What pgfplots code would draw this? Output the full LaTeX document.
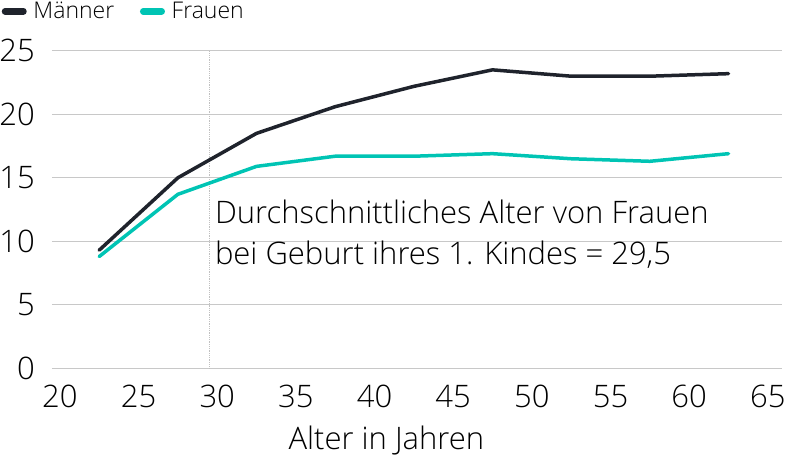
\documentclass[border=0pt]{standalone}
\usepackage{fontspec}
\setmainfont{Open Sans Light}
\usepackage{pgfplots}
\pgfplotsset{compat=1.18}
\definecolor{maenner}{HTML}{1F232C}
\definecolor{frauen}{HTML}{00C4B4}
\definecolor{gridc}{HTML}{C8C8C8}
\definecolor{dotc}{HTML}{C0C0C0}
\begin{document}
\begin{tikzpicture}
\begin{axis}[
  at={(0,0)}, anchor=south west,
  scale only axis, width=730bp, height=317.5bp,
  xmin=19.5, xmax=65.9, ymin=0, ymax=25,
  axis line style={draw=none},
  major tick length=0pt,
  tick style={draw=none},
  xtick={20,25,...,65}, ytick={0,5,...,25},
  ymajorgrids, grid style={gridc, line width=1bp},
  clip=false,
  /pgf/number format/assume math mode=true,
  ticklabel style={font=\fontsize{31bp}{31bp}\selectfont},
  yticklabel style={anchor=east, inner sep=0pt, xshift=-17bp},
  xticklabel style={anchor=north, inner sep=0pt, yshift=-17bp},
  xlabel={Alter in Jahren},
  xlabel style={at={(axis description cs:0.458,0)}, anchor=base, yshift=-81.5bp, inner sep=0pt, font=\fontsize{31bp}{31bp}\selectfont},
  legend columns=2,
  legend image code/.code={\path (0bp,0bp) (25bp,0bp); \draw[#1, line width=6.5bp, line cap=round] (3.25bp,0bp) -- (21.75bp,0bp);},
  legend style={at={(axis description cs:0,1)}, anchor=north west, xshift=-52bp, yshift=48.5bp,
    draw=none, fill=none, inner sep=0pt, outer sep=0pt,
    font=\fontsize{23bp}{23bp}\selectfont,
    nodes={inner sep=0pt},
    column sep=5bp,
    /tikz/every even column/.append style={column sep=24bp}},
  legend cell align=left,
]
\addplot[dotc, densely dotted, line width=0.8bp, forget plot] coordinates {(29.5,0) (29.5,25)};
\addplot[maenner, line width=3.5bp, line join=round, line cap=round] coordinates {
(22.5,9.3) (27.5,15.0) (32.5,18.5) (37.5,20.6) (42.5,22.2) (47.5,23.5) (52.5,23.0) (57.5,23.0) (62.5,23.2)};
\addlegendentry{Männer}
\addplot[frauen, line width=3.5bp, line join=round, line cap=round] coordinates {
(22.5,8.8) (27.5,13.7) (32.5,15.9) (37.5,16.7) (42.5,16.7) (47.5,16.9) (52.5,16.5) (57.5,16.3) (62.5,16.9)};
\addlegendentry{Frauen}
\node[anchor=base west, inner sep=0pt, font=\fontsize{31bp}{31bp}\selectfont] at (axis cs:29.85,11.44) {Durchschnittliches Alter von Frauen};
\node[anchor=base west, inner sep=0pt, font=\fontsize{31bp}{31bp}\selectfont] at (axis cs:29.85,8.21) {bei Geburt ihres 1. Kindes = 29,5};
\end{axis}
\pgfresetboundingbox
\path (-52bp,-87.7bp) rectangle (734bp,368.3bp);
\end{tikzpicture}
\end{document}
